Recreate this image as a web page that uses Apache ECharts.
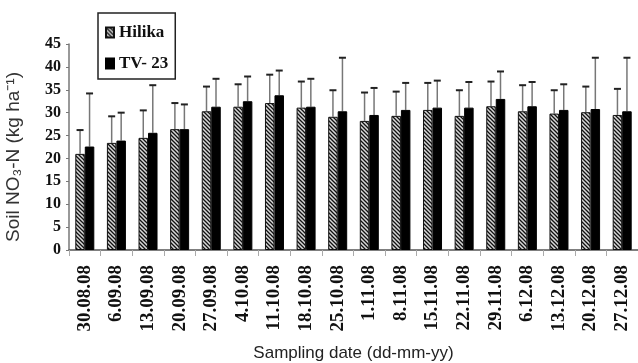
<!DOCTYPE html>
<html>
<head>
<meta charset="utf-8">
<script src="https://cdn.jsdelivr.net/npm/echarts@6/dist/echarts.min.js"></script>
<style>
  html, body { margin: 0; padding: 0; background: #fff; }
  #main { width: 638px; height: 363px; }
</style>
</head>
<body>
<div id="main"></div>
<script>
var dates = ["30.08.08", "6.09.08", "13.09.08", "20.09.08", "27.09.08", "4.10.08", "11.10.08", "18.10.08", "25.10.08",
  "1.11.08", "8.11.08", "15.11.08", "22.11.08", "29.11.08", "6.12.08", "13.12.08", "20.12.08", "27.12.08"];
var hilika = [21.0, 23.4, 24.5, 26.4, 30.3, 31.3, 32.1, 31.1, 29.1, 28.2, 29.3, 30.6, 29.3, 31.4, 30.3, 29.8, 30.1, 29.5];
var hilikaSd = [5.2, 5.8, 6.0, 5.7, 5.4, 4.9, 6.2, 5.7, 5.8, 6.2, 5.3, 5.9, 5.6, 5.4, 5.7, 5.1, 5.6, 5.7];
var tv23 = [22.6, 23.9, 25.6, 26.4, 31.3, 32.5, 33.8, 31.3, 30.3, 29.5, 30.6, 31.1, 31.1, 33.0, 31.4, 30.6, 30.8, 30.3];
var tv23Sd = [11.6, 6.1, 10.4, 5.4, 6.1, 5.4, 5.4, 6.1, 11.7, 5.9, 5.9, 5.9, 5.6, 6.0, 5.3, 5.6, 11.2, 11.7];

var barW = 9.5;

// hatch fill for Hilika bars
var hatch = document.createElement("canvas");
hatch.width = 4;
hatch.height = 4;
var hc = hatch.getContext("2d");
hc.fillStyle = "#d8d8d8";
hc.fillRect(0, 0, 4, 4);
hc.strokeStyle = "#111";
hc.lineWidth = 1.3;
hc.beginPath();
hc.moveTo(-1, -1); hc.lineTo(5, 5);
hc.moveTo(-1, 3); hc.lineTo(1, 5);
hc.moveTo(3, -1); hc.lineTo(5, 1);
hc.stroke();

function errData(means, sds) {
  var out = [];
  for (var i = 0; i < means.length; i++) {
    out.push([i, means[i], +(means[i] + sds[i]).toFixed(2)]);
  }
  return out;
}

function errRender(offset) {
  return function (params, api) {
    var x = api.coord([api.value(0), 0])[0] + offset;
    var yBase = api.coord([api.value(0), api.value(1)])[1];
    var yTop = api.coord([api.value(0), api.value(2)])[1];
    return {
      type: "group",
      children: [
        { type: "line", shape: { x1: x, y1: yBase, x2: x, y2: yTop }, style: { stroke: "#777", lineWidth: 1.5 } },
        { type: "line", shape: { x1: x - 3.5, y1: yTop, x2: x + 3.5, y2: yTop }, style: { stroke: "#222", lineWidth: 2 } }
      ]
    };
  };
}

var myChart = echarts.init(document.getElementById("main"));
myChart.setOption({
  animation: false,
  grid: { left: 69, right: 0, top: 44, bottom: 113, outerBoundsMode: "none" },
  legend: {
    orient: "vertical",
    left: 98,
    top: 13,
    padding: [11, 7, 7, 7],
    itemGap: 14,
    itemWidth: 8,
    itemHeight: 10,
    borderColor: "#222",
    borderWidth: 1.5,
    backgroundColor: "#fff",
    icon: "rect",
    textStyle: { fontFamily: "Liberation Serif", fontWeight: "bold", fontSize: 17, color: "#111" },
    data: ["Hilika", "TV- 23"]
  },
  xAxis: {
    type: "category",
    data: dates,
    name: "Sampling date (dd-mm-yy)",
    nameLocation: "middle",
    nameGap: 95,
    nameTextStyle: { fontFamily: "Liberation Sans", fontSize: 17, color: "#222" },
    axisLine: { lineStyle: { color: "#555", width: 1.5 } },
    axisTick: { show: true, length: 6, lineStyle: { color: "#aaa" } },
    axisLabel: {
      interval: 0,
      rotate: 90,
      margin: 15,
      fontFamily: "Liberation Serif",
      fontWeight: "bold",
      fontSize: 19,
      color: "#111"
    }
  },
  yAxis: {
    type: "value",
    min: 0,
    max: 45,
    interval: 5,
    name: "Soil NO\u2083-N (kg ha\u207B\u00B9)",
    nameLocation: "middle",
    nameGap: 46,
    nameTextStyle: { fontFamily: "Liberation Sans", fontSize: 19, color: "#333", padding: [0, 20, 0, 0] },
    splitLine: { show: false },
    axisLine: { show: true, lineStyle: { color: "#777", width: 1.5 } },
    axisTick: { show: true, length: 3, lineStyle: { color: "#777" } },
    axisLabel: { margin: 8, fontFamily: "Liberation Serif", fontWeight: "bold", fontSize: 16, color: "#111" }
  },
  series: [
    {
      name: "Hilika",
      type: "bar",
      barWidth: barW,
      barGap: "0%",
      data: hilika,
      itemStyle: { color: { image: hatch, repeat: "repeat" }, borderColor: "#111", borderWidth: 1 }
    },
    {
      name: "TV- 23",
      type: "bar",
      barWidth: barW,
      barGap: "0%",
      data: tv23,
      itemStyle: { color: "#000", borderColor: "#000", borderWidth: 1 }
    },
    {
      type: "custom",
      renderItem: errRender(-barW / 2),
      data: errData(hilika, hilikaSd),
      z: 1,
      silent: true
    },
    {
      type: "custom",
      renderItem: errRender(barW / 2),
      data: errData(tv23, tv23Sd),
      z: 1,
      silent: true
    }
  ]
});
</script>
</body>
</html>
